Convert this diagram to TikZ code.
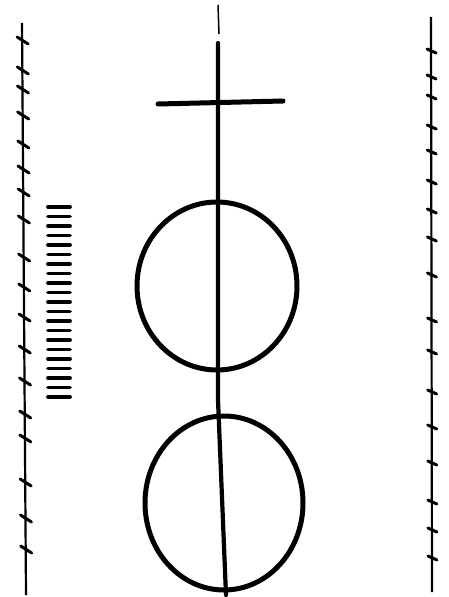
\documentclass[tikz,border=0pt]{standalone}
\usetikzlibrary{calc}
\begin{document}
\begin{tikzpicture}[
  x=1pt,y=-1pt,
  rail/.style={draw=black,line width=2.2pt},
  tick/.style={draw=black,line width=3pt,line cap=round},
  rung/.style={draw=black,line width=3.8pt,line cap=round},
  axis/.style={draw=black,line width=4.2pt,line cap=round,line join=round},
  ring/.style={draw=black,line width=5pt},
]
\useasboundingbox (0,0) rectangle (448,597);
% side rails with ticks
\coordinate (lt) at (22,23);
\coordinate (lb) at (26,595);
\coordinate (rt) at (431,17);
\coordinate (rb) at (432,592);
\draw[rail] (lt) -- (lb);
\draw[rail] (rt) -- (rb);
\foreach \y in {40,70,89,115,144,169,192,219,257,287,317,349,381,414,438,482,518,549}{
  \draw[tick] ($(lt)!{(\y-23)/572}!(lb)+(-5,-3)$) -- ++(11,7);
}
\foreach \y in {51,77,97,127,152,182,211,239,275,320,352,392,427,463,502,530,558}{
  \draw[tick] ($(rt)!{(\y-17)/575}!(rb)+(-4,-2)$) -- ++(9,4);
}
% hatch bars
\foreach \i in {0,...,20}{
  \draw[rung] (48,207+9.5*\i) -- (70,207+9.5*\i);
}
% rings and axis
\coordinate (ctop) at (217,286);
\coordinate (cbot) at (224,503);
\draw[ring] (ctop) ellipse [x radius=80, y radius=84];
\draw[ring] (cbot) ellipse [x radius=79, y radius=87];
\draw[black,line width=1.5pt] (218,5) -- (219,34);
\draw[axis] (218,43) -- (218,400) -- (226,595);
\coordinate (barl) at (158,104);
\coordinate (barr) at (283,101);
\draw[axis,line width=5pt] (barl) -- (barr);
\end{tikzpicture}
\end{document}
